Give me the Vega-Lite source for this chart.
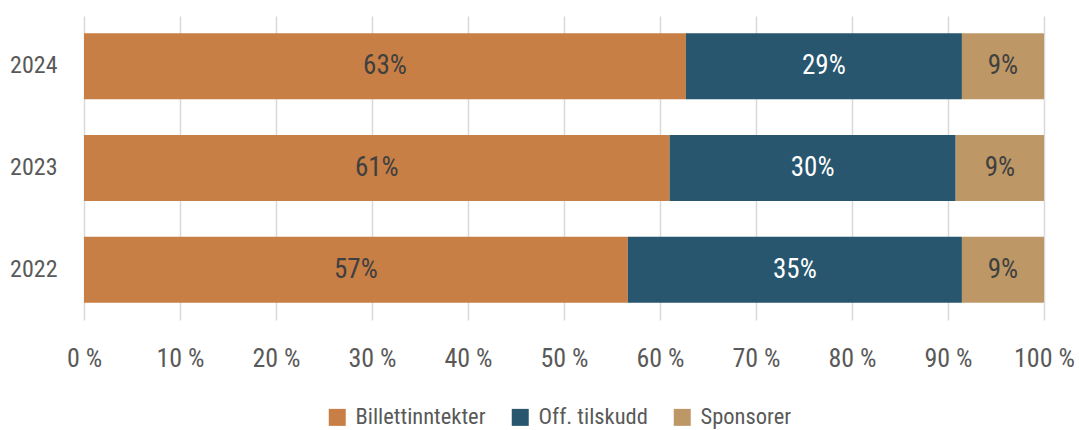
{
  "$schema": "https://vega.github.io/schema/vega-lite/v6.json",
  "width": 960,
  "height": 304,
  "autosize": "none",
  "padding": {"left": 84, "top": 16, "right": 35, "bottom": 110},
  "background": "white",
  "config": {
    "font": "Roboto Condensed, DejaVu Sans Condensed, Liberation Sans Narrow, Roboto",
    "view": {"stroke": null}
  },
  "data": {
    "values": [
      {"year": "2024", "cat": "Billettinntekter", "value": 62.7, "label": "63%"},
      {"year": "2024", "cat": "Off. tilskudd", "value": 28.75, "label": "29%"},
      {"year": "2024", "cat": "Sponsorer", "value": 8.55, "label": "9%"},
      {"year": "2023", "cat": "Billettinntekter", "value": 61.0, "label": "61%"},
      {"year": "2023", "cat": "Off. tilskudd", "value": 29.8, "label": "30%"},
      {"year": "2023", "cat": "Sponsorer", "value": 9.2, "label": "9%"},
      {"year": "2022", "cat": "Billettinntekter", "value": 56.65, "label": "57%"},
      {"year": "2022", "cat": "Off. tilskudd", "value": 34.8, "label": "35%"},
      {"year": "2022", "cat": "Sponsorer", "value": 8.55, "label": "9%"}
    ]
  },
  "encoding": {
    "y": {
      "field": "year",
      "type": "nominal",
      "sort": "descending",
      "title": null,
      "scale": {"paddingInner": 0.35, "paddingOuter": 0.17},
      "axis": {
        "domain": false,
        "ticks": false,
        "labelFontSize": 24,
        "labelColor": "#595959",
        "labelPadding": 27
      }
    }
  },
  "layer": [
    {
      "mark": {"type": "bar"},
      "encoding": {
        "x": {
          "field": "value",
          "type": "quantitative",
          "stack": "zero",
          "title": null,
          "scale": {"domain": [0, 100], "nice": false},
          "axis": {
            "values": [0, 10, 20, 30, 40, 50, 60, 70, 80, 90, 100],
            "labelExpr": "datum.value + ' %'",
            "labelFlush": false,
            "labelOverlap": false,
            "domain": false,
            "ticks": false,
            "grid": true,
            "gridColor": "#d9d9d9",
            "gridWidth": 1.5,
            "labelFontSize": 26,
            "labelColor": "#595959",
            "labelPadding": 25
          }
        },
        "color": {
          "field": "cat",
          "type": "nominal",
          "scale": {
            "domain": ["Billettinntekter", "Off. tilskudd", "Sponsorer"],
            "range": ["#C87F45", "#28566E", "#BD9866"]
          },
          "legend": {
            "title": null,
            "orient": "none",
            "legendX": 242,
            "legendY": 390,
            "direction": "horizontal",
            "symbolType": "square",
            "symbolSize": 289,
            "symbolStrokeWidth": 0,
            "symbolOffset": 0,
            "labelOffset": 7,
            "labelFontSize": 22.5,
            "labelColor": "#595959",
            "columnPadding": 23,
            "padding": 0
          }
        },
        "order": {"field": "cat"}
      }
    },
    {
      "mark": {"type": "text", "fontSize": 27},
      "encoding": {
        "x": {"field": "value", "type": "quantitative", "stack": "zero", "bandPosition": 0.5},
        "detail": {"field": "cat"},
        "order": {"field": "cat"},
        "text": {"field": "label"},
        "color": {
          "condition": {"test": "datum.cat === 'Off. tilskudd'", "value": "white"},
          "value": "#404040"
        }
      }
    }
  ]
}
